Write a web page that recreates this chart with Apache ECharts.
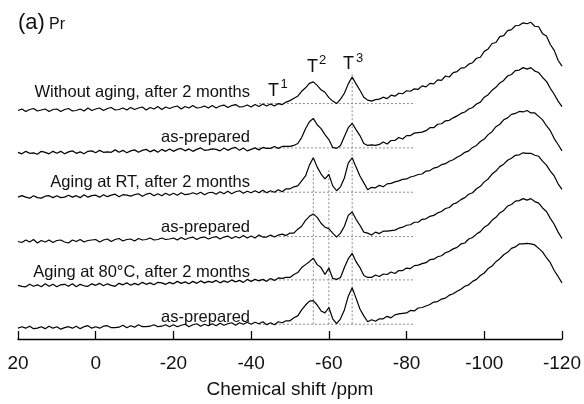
<!DOCTYPE html>
<html>
<head>
<meta charset="utf-8">
<script src="https://cdn.jsdelivr.net/npm/echarts@6/dist/echarts.min.js"></script>
<style>
html,body{margin:0;padding:0;background:#fff;}
#chart{width:584px;height:404px;}
</style>
</head>
<body>
<div id="chart"></div>
<script>
// Sample positions (ppm), from 20 down to -120 in 1 ppm steps
const ppm = [];
for (let v = 20; v >= -120; v--) ppm.push(v);

// Spectra (intensity above own baseline), ppm 20 -> -120
const specWithoutAged = [
0,1.5,-1,1,2,-0.5,0.5,1.5,-1,1,
1.5,-1,1,2,-0.5,0,1.5,-0.5,2.5,0,
1.5,2.5,0,2,3,0.5,1,2.5,0.5,3,
1,2.5,3.5,0.5,3,1.5,4,1,3.5,2,
3.5,4.5,1.5,4,2.5,5,2.5,3,4.5,2.5,
5,2.5,4.5,5.5,3,5,6,3.5,4,5.5,
3.5,6,4,6.5,4.5,6.5,4.5,7,6,8.5,
10,12.5,14.5,19.5,23,27.5,29,25.5,21,18.5,
13,9.5,7,11.5,17.5,27,34,27,20.5,13.5,
10.5,9.5,11,11.5,13.5,12,15.5,14.5,17.5,17,
20,19.5,22,21.5,25,24,27.5,27,31,30.5,
35,34,38.5,39.5,43,43.5,47,48.5,53,54,
60,62.5,68,69,75,76,81,82,86,86.5,
89,88,89.5,85.5,85,78,75.5,67,61,51,
45];
const specWithoutPrep = [
0.5,-1,1.5,-0.5,0,-1.5,1.5,0.5,-1,1.5,
-0.5,1.5,-1,1,2,-0.5,1,-1,1.5,2,
0,2.5,0.5,1,0.5,3,0.5,2.5,0,2,
3,0.5,2.5,3.5,1,3,0.5,3.5,1.5,4,
1.5,3.5,4.5,2,4,1.5,3.5,5,2.5,3,
4,3.5,2,5,2.5,4.5,5.5,2.5,5,2,
3.5,5,3,5.5,4.5,4.5,6.5,4.5,6.5,6.5,
6.5,7.5,9.5,15.5,24.5,31.5,35,28.5,24.5,18.5,
13.5,5.5,4.5,7.5,16.5,25.5,30,23.5,17.5,9.5,
7.5,8,7.5,8.5,11,9,12.5,12.5,15.5,14,
17.5,17.5,20,20.5,21,22.5,25.5,25.5,29,29.5,
32.5,33,35.5,37.5,40,41.5,44.5,46,49.5,51.5,
56.5,59,63.5,66.5,71,73.5,78,79.5,83.5,84,
86.5,85,86.5,83,81.5,76.5,72.5,65.5,59.5,52.5,
47];
const specRTAged = [
0,1.5,0,-1,1.5,-0.5,-1,1,1.5,-0.5,
1.5,-0.5,0,2,0,1.5,-0.5,2.5,0,1.5,
2,0,2.5,0.5,2,3,0.5,2.5,2,1,
2.5,3.5,1,3,4,1.5,3.5,1.5,4,2,
4,2,4.5,2.5,3,4.5,3,5,2.5,4.5,
5,3,5.5,3.5,6,3.5,5.5,6.5,4,6,
4.5,6.5,4.5,7,4.5,6.5,5,7.5,5.5,8.5,
8.5,10.5,11.5,16.5,21.5,32.5,40,30.5,23.5,18.5,
23,11.5,6.5,10.5,19.5,34.5,40,30.5,21.5,14.5,
7.5,10,9.5,12,10.5,13.5,14,15.5,16.5,18,
18.5,20.5,21.5,23,23.5,26.5,27,29.5,30.5,33,
34,36.5,38,40.5,42.5,45.5,47,50.5,52.5,56.5,
59,63.5,66.5,71.5,74,78.5,80.5,84,85,87,
86.5,88,85.5,85.5,82,78.5,72.5,67.5,59.5,53.5,
47];
const specRTPrep = [
0,-1,1.5,-0.5,2,-1.5,1,-0.5,1.5,-1,
1,1.5,-0.5,-1.5,1.5,0,2,-0.5,1,1.5,
2,-0.5,1.5,2.5,0,2,3,0.5,2,2.5,
0.5,3,1.5,2,3.5,1.5,2,3.5,2,2.5,
3.5,1.5,4,2,3.5,4.5,2,4,4.5,2.5,
4,5,2.5,4.5,5.5,3,5,3.5,6,3.5,
5.5,3.5,6.5,4.5,4.5,6.5,4.5,6.5,7.5,6,
8.5,8.5,12.5,15.5,21.5,25.5,28,24.5,18.5,14.5,
13,8.5,4.5,8.5,15.5,26.5,30,22.5,16.5,9.5,
8.5,6.5,9.5,8,10.5,10.5,11,11.5,13.5,14.5,
16.5,17,19.5,19.5,22.5,23,25.5,26.5,29,30.5,
33.5,34.5,38,39.5,42.5,44.5,48,49.5,53.5,56,
60.5,63.5,68.5,71.5,76,78.5,82.5,84.5,87.5,88,
90,89.5,89.5,87.5,86.5,81.5,77.5,71.5,66.5,58.5,
53];
const spec80Aged = [
0.5,-0.5,-1,1.5,-0.5,1,-1,2,-0.5,1.5,
-1,1,1.5,-0.5,2,-1,1.5,0,-0.5,2,
0.5,2.5,0,2,0.5,-0.5,2.5,1,3,0.5,
2.5,1,3.5,1.5,3,1,3.5,3,1.5,3.5,
2,4.5,2.5,4,2,4.5,2.5,5,3,4.5,
3.5,5.5,3,5,3.5,6,4,5.5,3.5,6.5,
4.5,6.5,5,6.5,4.5,7.5,5.5,8,7.5,8.5,
8.5,11.5,13.5,18.5,21.5,24.5,28,21.5,18.5,11.5,
18,7.5,6.5,8.5,18.5,27.5,33,24.5,18.5,10.5,
8.5,8.5,11,9.5,12,11.5,14,12.5,15.5,15.5,
18,17.5,20.5,21,22.5,23.5,26.5,27,29.5,30.5,
33.5,35,37.5,39,42.5,43.5,47.5,49,52.5,55,
59.5,62,66.5,69.5,74,76.5,81,82.5,86,86.5,
88.5,87,88.5,85.5,84,79,75.5,68.5,62.5,54.5,
48];
const spec80Prep = [
0,1.5,0,2,-0.5,0,1.5,-0.5,2,0,
1.5,-1,0.5,1.5,0,2,-0.5,1.5,2.5,0,
1.5,0,2,2.5,0.5,0.5,1,3,0.5,2.5,
1,3.5,1.5,1.5,2,3.5,1.5,2,3.5,1.5,
3.5,1.5,3,4,1.5,3.5,4.5,2,4,2.5,
4.5,2.5,5,3,4.5,5.5,3,5.5,4,6,
4,6,4.5,6.5,3.5,5.5,3.5,6.5,5.5,7.5,
7.5,10.5,12.5,18.5,23.5,27.5,28,23.5,17.5,15.5,
21,9.5,4.5,9.5,18.5,32.5,41,30.5,19.5,12.5,
6.5,8.5,7,9.5,9.5,12,10.5,13.5,14.5,15,
15.5,18,17.5,20.5,21,22.5,24,26.5,27,29.5,
30.5,33.5,35,37.5,39.5,42.5,44,47.5,49.5,53.5,
56,60.5,63,67.5,70.5,74.5,77,81,82.5,85.5,
85.5,86,85.5,84.5,81,77.5,71.5,66.5,58.5,52.5,
46];

const spectra = [specWithoutAged, specWithoutPrep, specRTAged, specRTPrep, spec80Aged, spec80Prep];
// vertical stacking offset of each trace
const offsets = [232, 189, 144, 99, 54, 11];
// local dotted baseline level for each trace (above its own baseline)
const baseLevels = [7, 5, 5, 5, 6, 4];
const baseRange = [-42, -82];
// vertical dotted guide lines: ppm, lower value, upper value
const guidePpm = [-56, -60, -66];
const guideLow = [15, 15, 15];
const guideHigh = [172, 172, 271];

const traceLabels = ['Without aging, after 2 months', 'as-prepared', 'Aging at RT, after 2 months',
                     'as-prepared', 'Aging at 80\u00B0C, after 2 months', 'as-prepared'];
const xTicks = [20, 0, -20, -40, -60, -80, -100, -120];

const FONT = '"Liberation Sans", Arial, Helvetica, sans-serif';

const series = [];
const dotStyle = {color: '#8a8a8a', width: 1, type: [2, 2]};
baseLevels.forEach((lv, k) => {
  series.push({
    type: 'line', silent: true, showSymbol: false, symbol: 'none', z: 1,
    lineStyle: dotStyle,
    data: [[baseRange[0], offsets[k] + lv], [baseRange[1], offsets[k] + lv]]
  });
});
guidePpm.forEach((p, k) => {
  series.push({
    type: 'line', silent: true, showSymbol: false, symbol: 'none', z: 1,
    lineStyle: dotStyle,
    data: [[p, guideLow[k]], [p, guideHigh[k]]]
  });
});
spectra.forEach((s, k) => {
  series.push({
    type: 'line', silent: true, showSymbol: false, symbol: 'none', z: 3,
    lineStyle: {color: '#000', width: 1.2},
    data: ppm.map((p, i) => [p, s[i] + offsets[k]])
  });
});

const labelY = [92, 137, 182.5, 227, 272.5, 317];
const graphics = [];
traceLabels.forEach((t, k) => {
  graphics.push({type: 'text', x: 250, y: labelY[k], z: 10,
    style: {text: t, fill: '#111', font: '16.5px ' + FONT, textAlign: 'right', align: 'right', textVerticalAlign: 'middle', verticalAlign: 'middle'}});
});
function txt(str, x, y, size) {
  graphics.push({type: 'text', x: x, y: y, z: 10,
    style: {text: str, fill: '#111', font: size + 'px ' + FONT, textAlign: 'left', align: 'left', textVerticalAlign: 'middle', verticalAlign: 'middle'}});
}
txt('(a)', 18, 23, 22);
txt('Pr', 49, 25, 16);
txt('T', 268, 91, 18); txt('1', 280.5, 84, 13);
txt('T', 307, 67.5, 18); txt('2', 319, 60, 13);
txt('T', 343, 64.5, 18); txt('3', 356, 58, 13);

const chart = echarts.init(document.getElementById('chart'), null, {renderer: 'canvas'});
chart.setOption({
  animation: false,
  backgroundColor: '#fff',
  grid: {left: 18, right: 22, top: 10, bottom: 60, containLabel: false},
  xAxis: {
    type: 'value', min: -120, max: 20, interval: 20, inverse: true,
    axisLine: {show: true, lineStyle: {color: '#000', width: 1.3}},
    axisTick: {show: true, inside: true, length: 8, lineStyle: {color: '#000', width: 1.3}},
    axisLabel: {color: '#111', fontSize: 19, fontFamily: FONT, margin: 15,
      formatter: v => xTicks.includes(v) ? String(v) : ''},
    splitLine: {show: false},
    name: 'Chemical shift /ppm', nameLocation: 'middle', nameGap: 41,
    nameTextStyle: {color: '#111', fontSize: 19, fontFamily: FONT}
  },
  yAxis: {type: 'value', min: 0, max: 334, show: false},
  series: series,
  graphic: graphics
});
</script>
</body>
</html>
